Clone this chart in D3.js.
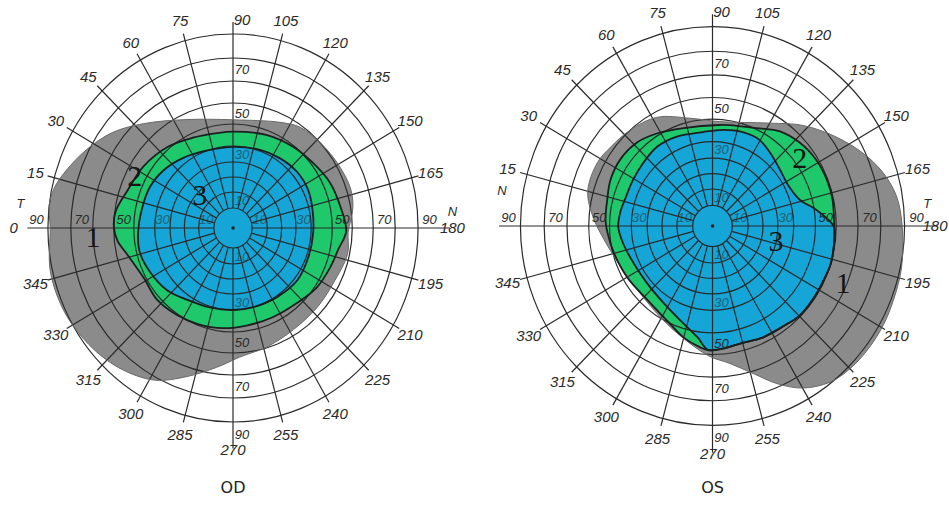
<!DOCTYPE html>
<meta charset="utf-8">
<svg width="949" height="517"></svg>
<style>
  body { margin: 0; background: #fff; }
  svg { display: block; }
  .num { font-family: "Liberation Sans", Arial, sans-serif; font-style: italic; fill: #2a2a2a; }
  .iso { font-family: "Liberation Serif", "DejaVu Serif", serif; fill: #151515; }
  .eye { font-family: "DejaVu Sans", sans-serif; fill: #222; }
</style>
<script src="https://cdnjs.cloudflare.com/ajax/libs/d3/7.8.5/d3.min.js"></script>
<script>
// perimetry form: meridians every 15 deg, rings in degrees of eccentricity
var meridians = d3.range(0, 360, 15);
var rings = [5, 10, 20, 30, 40, 50, 60, 70, 80, 90];
var axisTicks = [10, 30, 50, 70, 90];

// isopters as [meridian, eccentricity]  (1 = grey, 2 = green, 3 = blue)
var odIsopter1 = [[0,89],[7,90],[12,89],[18,86],[27,81],[37,75],[48,67],[66,57],[90,52],[115,56],[125,59],[137,60],
  [149,61],[162,62],[171,61],[182,58],[192,59],[208,57],[222,57],[238,57.5],[253,59.5],[267,62],[277,67],[288,74],
  [298,81],[308,85],[319,88],[333,90.5],[347,91]];
var odIsopter2 = [[1,60],[8,59.5],[19,56],[33,54],[50,51],[65,48],[80,46.5],[90,46.5],[111,48],[128,49.5],[142,51],
  [156,53.5],[169,55],[181.5,57],[191,54],[201,52.5],[214,51],[228,48.5],[245,47.5],[261,47.5],[276,48.5],[291,49.5],
  [304,50.5],[318,51.5],[332,51],[346,54.5],[354,58.5]];
var odIsopter3 = [[11,47],[25,46.5],[38,45],[53,42.5],[71,40],[90,39.5],[110,40.5],[125,41.5],[140,42.5],[154,42.5],
  [168,41.5],[183,41],[200,41],[218,41.5],[236,40.5],[255,40],[270,40],[287,40.5],[304,42],[318,45],[333,47],
  [346,48.5],[357,48]];

var osIsopter1 = [[4,58],[15,62.5],[28,63],[37,61.5],[48,60],[62,57.5],[78,51.5],[94,49],[120,55.5],[133,64],[145,72],
  [155,79],[163,84],[171,87.5],[180,89],[192,90.5],[201,91],[209,91.5],[217,91.5],[225,91],[232,89.5],[240,85],
  [247,78.5],[254,71],[262.5,64.5],[272,60.5],[293.5,51.5],[315,47.5],[337,48.5],[353,53]];
var osIsopter2 = [[3,52],[13,52.5],[23.5,54],[35,54.5],[47,53.5],[58,51],[73,48],[94,47.5],[100,48],[115,50.5],
  [126.5,55],[137.5,57.5],[148.5,59],[159,59.5],[168,59.5],[180.5,59],[188,59.5],[197,60],[206.5,59.5],[215.5,59.5],
  [224.5,59.5],[234,58],[245,57.5],[255,56.5],[265,57.5],[272,58],[276,57],[285,54],[296.5,49.5],[312.5,47],
  [330,48],[345,49.5],[356,51]];
var osIsopter3 = [[8,45.5],[18,44.5],[29,44.5],[41,45],[54,46],[67.5,45.5],[84,44.5],[96.5,45.5],[108.5,46.5],
  [119.5,46.5],[132,44],[141,42.5],[154,42],[164,44.5],[171.5,51],[180.5,59],[188,59.5],[197,60],[206.5,59.5],
  [215.5,59.5],[224.5,59.5],[234,58],[245,57.5],[255,56.5],[265,57.5],[272,58],[278,52.5],[289.5,47],[303.5,43.5],
  [320,42],[335.5,42.5],[349.5,44.5],[359.5,46]];

// where the isopter numbers 1, 2, 3 are written: [meridian, eccentricity]
var odIsoLabels = [[356.5,70],[27,55.5],[43.5,18]];
var osIsoLabels = [[202.5,68],[143,53],[192,29.7]];

var isoColors = ["#8b8b8b", "#1ec86b", "#15a5d6"];

var charts = [
  {name: "OD", cx: 233, cy: 228, kx: 0.954, ky: 1.0, iso: [odIsopter1, odIsopter2, odIsopter3], labels: odIsoLabels,
   sides: [["T", 0, 102, -25], ["N", 180, 105, -17]], skip: []},
  {name: "OS", cx: 712.5, cy: 226, kx: 0.99, ky: 1.028, iso: [osIsopter1, osIsopter2, osIsopter3], labels: osIsoLabels,
   sides: [["N", 0, 97.8, -36], ["T", 180, 99.5, -23]], skip: [0]}
];

var svg = d3.select("svg");
var W = +svg.attr("width");

// eccentricity (deg) -> radius on the form (not linear on the printed blank)
var rScale = d3.scaleLinear()
    .domain([0, 5, 10, 20, 30, 40, 50, 60, 70, 80, 90])
    .range([0, 20, 36, 51, 66, 82, 104, 125, 147, 170, 194]);

function project(c, a, e) {
  var r = rScale(e), t = a * Math.PI / 180;
  return [c.cx - r * c.kx * Math.cos(t), c.cy - r * c.ky * Math.sin(t)];
}

charts.forEach(function(c) {
  var g = svg.append("g");

  var line = d3.line()
      .x(function(d) { return project(c, d[0], d[1])[0]; })
      .y(function(d) { return project(c, d[0], d[1])[1]; })
      .curve(d3.curveCatmullRomClosed.alpha(0.5));

  // fields
  g.selectAll("path.field").data(c.iso).enter().append("path")
      .attr("class", "field")
      .attr("d", line)
      .attr("fill", function(d, i) { return isoColors[i]; })
      .attr("stroke", "none");

  // rings
  g.selectAll("ellipse.ring").data(rings).enter().append("ellipse")
      .attr("class", "ring")
      .attr("cx", c.cx).attr("cy", c.cy)
      .attr("rx", function(d) { return rScale(d) * c.kx; })
      .attr("ry", function(d) { return rScale(d) * c.ky; })
      .attr("fill", "none")
      .attr("stroke", "#2b2b2b")
      .attr("stroke-width", 1.2);

  // meridians
  function endEcc(m) {
    if (m === 180) return 104;
    if (m === 270) return 101;
    if (m === 0) return 99;
    if (m === 90) return 95;
    return 93;
  }
  g.selectAll("line.mer").data(meridians).enter().append("line")
      .attr("class", "mer")
      .attr("x1", function(m) { return project(c, m, 5)[0]; })
      .attr("y1", function(m) { return project(c, m, 5)[1]; })
      .attr("x2", function(m) { return Math.min(W, project(c, m, endEcc(m))[0]); })
      .attr("y2", function(m) { return project(c, m, endEcc(m))[1]; })
      .attr("stroke", "#2b2b2b")
      .attr("stroke-width", 1.2);

  // isopter outlines
  g.selectAll("path.edge").data(c.iso).enter().append("path")
      .attr("class", "edge")
      .attr("d", line)
      .attr("fill", "none")
      .attr("stroke", function(d, i) { return i === 0 ? "#6a6a6a" : "#1b1f1f"; })
      .attr("stroke-width", function(d, i) { return i === 0 ? 1 : 1.8; });

  // centre dot
  g.append("circle").attr("cx", c.cx).attr("cy", c.cy).attr("r", 1.8).attr("fill", "#222");

  // meridian labels (the top "90" doubles as the 90-degree ring label)
  function labelEcc(m) {
    if (m === 0 || m === 180) return 105;
    if (m === 90) return 96;
    if (m === 270) return 101.5;
    return 98.5;
  }
  g.selectAll("text.mlab").data(meridians.filter(function(m) { return c.skip.indexOf(m) < 0; }))
    .enter().append("text")
      .attr("class", "num mlab")
      .attr("x", function(m) {
        var x = project(c, m, labelEcc(m))[0] + (m === 90 ? 9 : 0);
        return Math.min(x, W - 14);
      })
      .attr("y", function(m) { return project(c, m, labelEcc(m))[1]; })
      .attr("text-anchor", "middle")
      .attr("dy", "0.35em")
      .style("font-size", "15px")
      .text(function(m) { return m; });

  // eccentricity labels along the four half-axes
  var tickPos = [];
  [0, 90, 180, 270].forEach(function(ax) {
    axisTicks.forEach(function(t) {
      if (!(ax === 90 && t === 90)) tickPos.push({ax: ax, t: t});
    });
  });
  function tickEcc(t) { return t === 10 ? 7.5 : t + 5; }
  g.selectAll("text.tlab").data(tickPos).enter().append("text")
      .attr("class", "num tlab")
      .attr("x", function(d) {
        var p = project(c, d.ax, tickEcc(d.t));
        return (d.ax === 90 || d.ax === 270) ? p[0] + 9 : p[0];
      })
      .attr("y", function(d) {
        var p = project(c, d.ax, tickEcc(d.t));
        return (d.ax === 90 || d.ax === 270) ? p[1] : p[1] - 9;
      })
      .attr("text-anchor", "middle")
      .attr("dy", "0.35em")
      .style("font-size", "13px")
      .style("opacity", function(d) { return d.t < 50 ? 0.55 : 1; })
      .text(function(d) { return d.t; });

  // T / N side letters
  g.selectAll("text.side").data(c.sides).enter().append("text")
      .attr("class", "num side")
      .attr("x", function(d) { return project(c, d[1], d[2])[0]; })
      .attr("y", function(d) { return project(c, d[1], d[2])[1] + d[3]; })
      .attr("text-anchor", "middle")
      .attr("dy", "0.35em")
      .style("font-size", "13px")
      .text(function(d) { return d[0]; });

  // isopter numbers
  g.selectAll("text.iso").data(c.labels).enter().append("text")
      .attr("class", "iso")
      .attr("x", function(d) { return project(c, d[0], d[1])[0]; })
      .attr("y", function(d) { return project(c, d[0], d[1])[1]; })
      .attr("text-anchor", "middle")
      .attr("dy", "0.35em")
      .style("font-size", "30px")
      .text(function(d, i) { return i + 1; });

  // eye caption
  svg.append("text")
      .attr("class", "eye")
      .attr("x", c.cx)
      .attr("y", 493)
      .attr("text-anchor", "middle")
      .style("font-size", "16px")
      .text(c.name);
});
</script>
